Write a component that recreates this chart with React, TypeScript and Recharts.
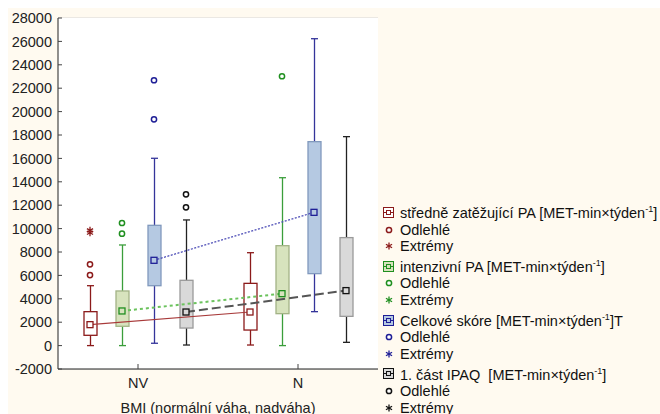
import { Bar, CartesianGrid, ComposedChart, Scatter, XAxis, YAxis } from "recharts";

const categories = ["NV", "N"];
const yTicks = [-2000, 0, 2000, 4000, 6000, 8000, 10000, 12000, 14000, 16000, 18000, 20000, 22000, 24000, 26000, 28000];

// středně zatěžující PA
const moderateMin = [0, 50];
const moderateQ1 = [880, 1330];
const moderateMedian = [1790, 2870];
const moderateQ3 = [2900, 5320];
const moderateMax = [5120, 7940];
const moderateOutliers = [[6950, 6030], []];
const moderateExtremes = [[9850, 9650], []];

// intenzivní PA
const vigorousMin = [0, 0];
const vigorousQ1 = [1650, 2730];
const vigorousMedian = [2960, 4440];
const vigorousQ3 = [4670, 8540];
const vigorousMax = [8600, 14350];
const vigorousOutliers = [[10480, 9570], [23020]];
const vigorousExtremes = [[], []];

// Celkové skóre
const totalMin = [200, 2900];
const totalQ1 = [5120, 6150];
const totalMedian = [7290, 11390];
const totalQ3 = [10280, 17430];
const totalMax = [16010, 26230];
const totalOutliers = [[22680, 19340], []];
const totalExtremes = [[], []];

// 1. část IPAQ
const ipaqMin = [50, 280];
const ipaqQ1 = [1500, 2500];
const ipaqMedian = [2870, 4700];
const ipaqQ3 = [5580, 9230];
const ipaqMax = [10740, 17860];
const ipaqOutliers = [[12930, 11820], []];
const ipaqExtremes = [[], []];

const SERIES = [
  {
    key: "moderate",
    label: "středně zatěžující PA [MET-min×týden",
    tail: "]",
    min: moderateMin, q1: moderateQ1, med: moderateMedian, q3: moderateQ3, max: moderateMax,
    outliers: moderateOutliers, extremes: moderateExtremes,
    fill: "#ffffff", border: "#8b1a1a", whisker: "#8b1a1a", color: "#8b1a1a",
    line: { stroke: "#a83a3a", strokeWidth: 1.2 },
  },
  {
    key: "vigorous",
    label: "intenzivní PA [MET-min×týden",
    tail: "]",
    min: vigorousMin, q1: vigorousQ1, med: vigorousMedian, q3: vigorousQ3, max: vigorousMax,
    outliers: vigorousOutliers, extremes: vigorousExtremes,
    fill: "#d7e3bd", border: "#a3b386", whisker: "#3b9e3b", color: "#1f8f1f",
    line: { stroke: "#6cc35e", strokeWidth: 2, strokeDasharray: "3 3" },
  },
  {
    key: "total",
    label: "Celkové skóre [MET-min×týden",
    tail: "]T",
    min: totalMin, q1: totalQ1, med: totalMedian, q3: totalQ3, max: totalMax,
    outliers: totalOutliers, extremes: totalExtremes,
    fill: "#b5c9e2", border: "#8199bd", whisker: "#34349a", color: "#1e1e96",
    line: { stroke: "#5050b8", strokeWidth: 1.3, strokeDasharray: "2 1.5" },
  },
  {
    key: "ipaq",
    label: "1. část IPAQ  [MET-min×týden",
    tail: "]",
    min: ipaqMin, q1: ipaqQ1, med: ipaqMedian, q3: ipaqQ3, max: ipaqMax,
    outliers: ipaqOutliers, extremes: ipaqExtremes,
    fill: "#d9d9d9", border: "#9a9a9a", whisker: "#222222", color: "#111111",
    line: { stroke: "#555555", strokeWidth: 2, strokeDasharray: "9 4" },
  },
];

const rows = categories.map((cat, ci) => {
  const row: any = { cat };
  SERIES.forEach((s) => {
    row[s.key] = [s.min[ci], s.max[ci]];
  });
  return row;
});

// x on the hidden numeric axis: category centre +- offset per series
const posX = (ci: number, si: number) => ci + 0.5 + (si - 1.5) * 0.2;

const FONT = "'Liberation Sans', Arial, sans-serif";

function BoxShape(props: any) {
  const { x, y, width, height, payload, s } = props;
  const ci = categories.indexOf(payload.cat);
  const lo = s.min[ci];
  const hi = s.max[ci];
  const top = Math.min(y, y + height);
  const h = Math.abs(height);
  const py = (v: number) => top + ((hi - v) / (hi - lo)) * h;
  const cx = x + width / 2;
  const yq3 = py(s.q3[ci]);
  const yq1 = py(s.q1[ci]);
  return (
    <g>
      <line x1={cx} x2={cx} y1={py(hi)} y2={py(lo)} stroke={s.whisker} strokeWidth={1.3} />
      <line x1={cx - 3.5} x2={cx + 3.5} y1={py(hi)} y2={py(hi)} stroke={s.whisker} strokeWidth={1.3} />
      <line x1={cx - 3.5} x2={cx + 3.5} y1={py(lo)} y2={py(lo)} stroke={s.whisker} strokeWidth={1.3} />
      <rect x={x} y={yq3} width={width} height={yq1 - yq3} fill={s.fill} stroke={s.border} strokeWidth={1.3} />
    </g>
  );
}

function MedianMark(props: any) {
  const { cx, cy, s } = props;
  return <rect x={cx - 3} y={cy - 3} width={6} height={6} fill={s.fill} stroke={s.color} strokeWidth={1.3} />;
}

function OutlierMark(props: any) {
  const { cx, cy, s } = props;
  return <circle cx={cx} cy={cy} r={2.6} fill="#ffffff" stroke={s.color} strokeWidth={1.5} />;
}

function ExtremeMark(props: any) {
  const { cx, cy, s } = props;
  const r = 3.5;
  return (
    <g stroke={s.color} strokeWidth={1.3}>
      <line x1={cx} x2={cx} y1={cy - r} y2={cy + r} />
      <line x1={cx - r * 0.87} x2={cx + r * 0.87} y1={cy - r / 2} y2={cy + r / 2} />
      <line x1={cx - r * 0.87} x2={cx + r * 0.87} y1={cy + r / 2} y2={cy - r / 2} />
    </g>
  );
}

const Empty = () => <g />;

function LegendBlock() {
  return (
    <div style={{ position: "absolute", left: 0, top: 0, width: 652, height: 406, pointerEvents: "none" }}>
      {SERIES.map((s, g) => {
        const top = 204.7 + g * 53.9;
        const items = [
          { kind: "box", text: null },
          { kind: "out", text: "Odlehlé" },
          { kind: "ext", text: "Extrémy" },
        ];
        return items.map((it, r) => {
          const cy = top + r * 16.8;
          return (
            <div key={s.key + r} style={{ position: "absolute", left: 372, top: cy - 10, height: 20, width: 280, display: "flex", alignItems: "center" }}>
              <svg width={20} height={20} style={{ flex: "none" }}>
                {it.kind === "box" && (
                  <g>
                    <rect x={3.5} y={4.5} width={10} height={10} fill={s.fill} stroke={s.color} strokeWidth={1} />
                    <line x1={3.5} x2={13.5} y1={9.5} y2={9.5} stroke={s.color} />
                    <rect x={6.5} y={7.5} width={4} height={4} fill={s.fill} stroke={s.color} strokeWidth={1} />
                  </g>
                )}
                {it.kind === "out" && <OutlierMark cx={9} cy={10} s={s} />}
                {it.kind === "ext" && <ExtremeMark cx={9} cy={10} s={s} />}
              </svg>
              <span style={{ fontSize: 14.5, color: "#111", whiteSpace: "pre" }}>
                {it.kind === "box" ? (
                  <>
                    {s.label}
                    <sup style={{ fontSize: 9 }}>-1</sup>
                    {s.tail}
                  </>
                ) : (
                  it.text
                )}
              </span>
            </div>
          );
        });
      })}
    </div>
  );
}

export default function App() {
  return (
    <div
      style={{
        position: "absolute",
        left: 8,
        top: 8,
        width: 652,
        height: 406,
        background: "#fffaf0",
        fontFamily: FONT,
        overflow: "hidden",
      }}
    >
      <ComposedChart
        width={652}
        height={406}
        data={rows}
        margin={{ top: 10, right: 282, bottom: 0, left: 0 }}
        barSize={13}
        barGap={19}
      >
        <rect x={50} y={10} width={320} height={351} fill="#ffffff" />
        <CartesianGrid xAxisId="cat" vertical={false} stroke="#d6d6d6" fill="#ffffff" />
        <XAxis
          xAxisId="cat"
          dataKey="cat"
          height={45}
          tickSize={-5}
          tickMargin={14}
          axisLine={{ stroke: "#222" }}
          tickLine={{ stroke: "#444" }}
          tick={{ fill: "#222", fontSize: 14.5 }}
          label={{ value: "BMI (normální váha, nadváha)", position: "insideBottom", offset: 1, fill: "#222", fontSize: 14.5 }}
        />
        <XAxis
          xAxisId="top"
          dataKey="cat"
          orientation="top"
          height={0}
          tickSize={-4}
          axisLine={false}
          tickLine={{ stroke: "#444" }}
          tickFormatter={() => ""}
        />
        <XAxis xAxisId="num" type="number" dataKey="x" domain={[0, 2]} allowDataOverflow hide />
        <YAxis
          domain={[-2000, 28000]}
          ticks={yTicks}
          allowDataOverflow
          width={50}
          tickSize={-4}
          tickMargin={10}
          interval={0}
          axisLine={{ stroke: "#222" }}
          tickLine={{ stroke: "#444" }}
          tick={{ fill: "#222", fontSize: 14.5 }}
        />
        <YAxis
          yAxisId="right"
          orientation="right"
          domain={[-2000, 28000]}
          ticks={yTicks}
          allowDataOverflow
          width={0}
          tickSize={-3}
          interval={0}
          axisLine={{ stroke: "#222" }}
          tickLine={{ stroke: "#333" }}
          tickFormatter={() => ""}
        />
        {SERIES.map((s, si) => (
          <Scatter
            key={"line-" + s.key}
            xAxisId="num"
            dataKey="y"
            data={categories.map((c, ci) => ({ x: posX(ci, si), y: s.med[ci] }))}
            line={s.line}
            shape={Empty}
            isAnimationActive={false}
          />
        ))}
        {SERIES.map((s) => (
          <Bar
            key={"box-" + s.key}
            xAxisId="cat"
            dataKey={s.key}
            shape={(p: any) => <BoxShape {...p} s={s} />}
            isAnimationActive={false}
          />
        ))}
        {SERIES.map((s, si) => (
          <Scatter
            key={"out-" + s.key}
            xAxisId="num"
            dataKey="y"
            data={categories.flatMap((c, ci) => s.outliers[ci].map((v) => ({ x: posX(ci, si), y: v })))}
            shape={(p: any) => <OutlierMark {...p} s={s} />}
            isAnimationActive={false}
          />
        ))}
        {SERIES.map((s, si) => (
          <Scatter
            key={"ext-" + s.key}
            xAxisId="num"
            dataKey="y"
            data={categories.flatMap((c, ci) => s.extremes[ci].map((v) => ({ x: posX(ci, si), y: v })))}
            shape={(p: any) => <ExtremeMark {...p} s={s} />}
            isAnimationActive={false}
          />
        ))}
        {SERIES.map((s, si) => (
          <Scatter
            key={"med-" + s.key}
            xAxisId="num"
            dataKey="y"
            data={categories.map((c, ci) => ({ x: posX(ci, si), y: s.med[ci] }))}
            shape={(p: any) => <MedianMark {...p} s={s} />}
            isAnimationActive={false}
          />
        ))}
      </ComposedChart>
      <LegendBlock />
    </div>
  );
}
